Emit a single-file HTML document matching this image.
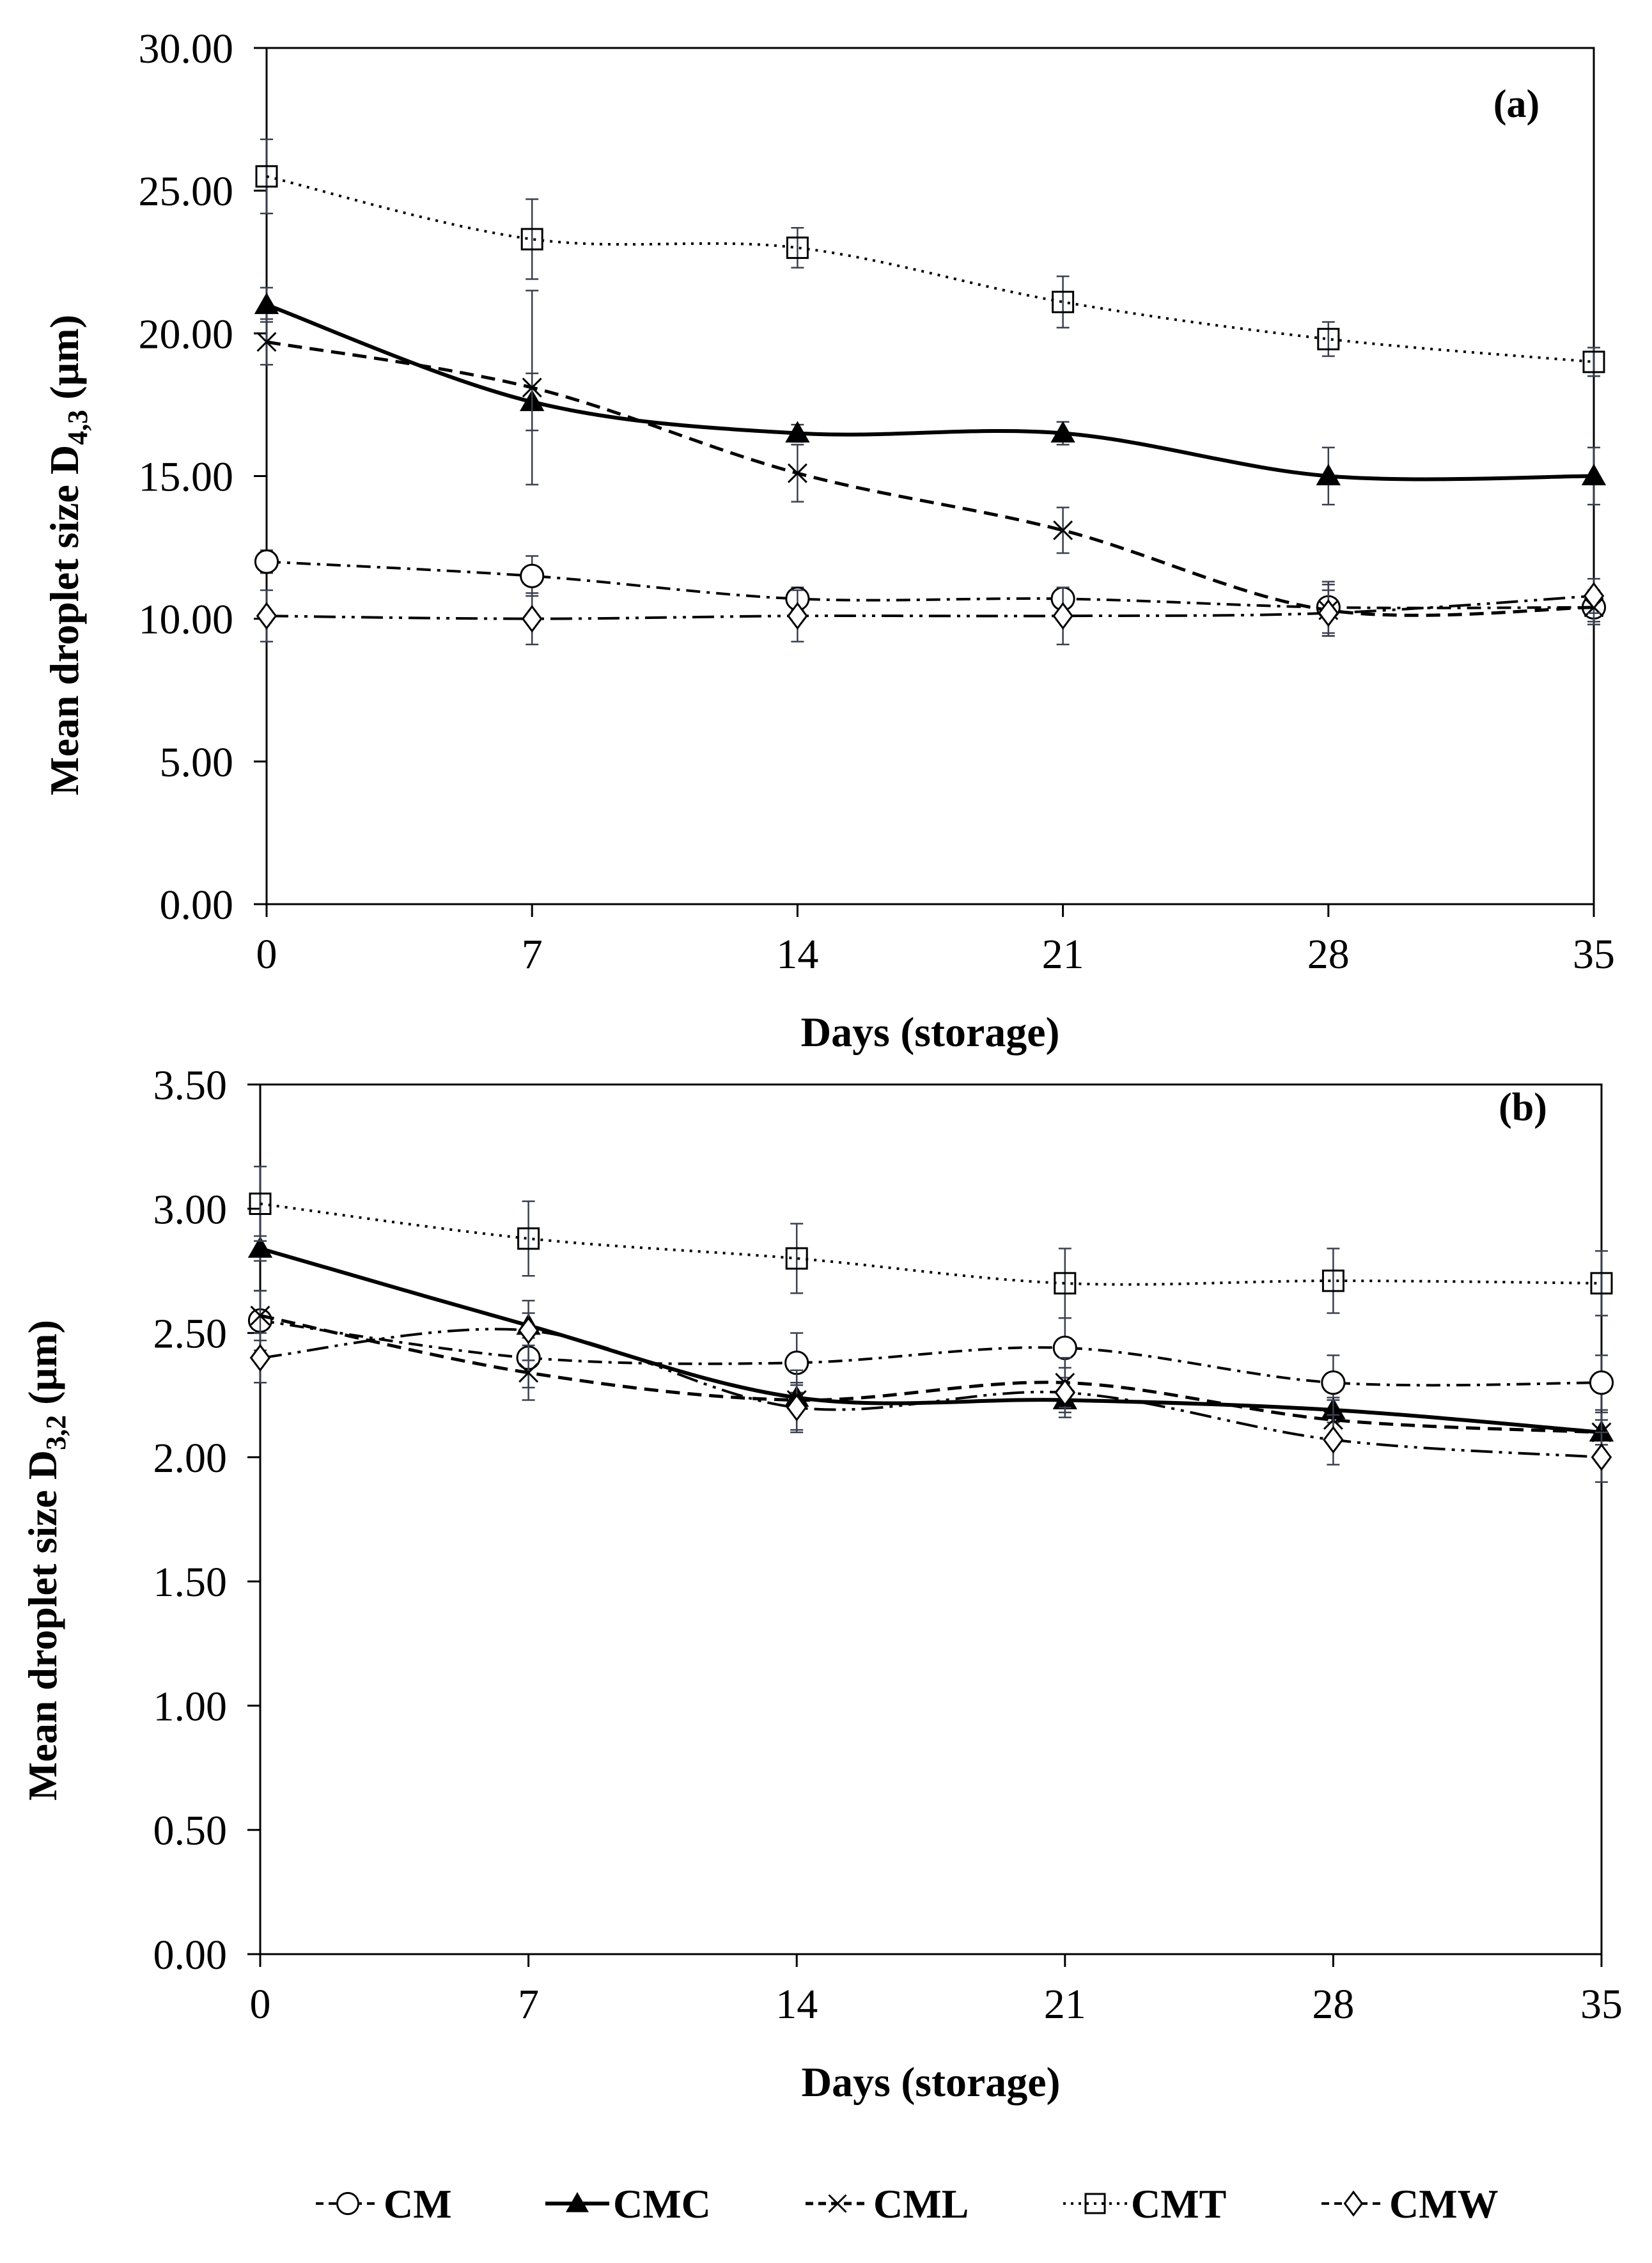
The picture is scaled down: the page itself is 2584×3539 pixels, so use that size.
<!DOCTYPE html>
<html><head><meta charset="utf-8"><style>
html,body{margin:0;padding:0;background:#fff}
svg{display:block}
text{font-family:"Liberation Serif",serif;fill:#000}
</style></head><body>
<svg id="fig" width="2584" height="3539" xmlns="http://www.w3.org/2000/svg" font-family="Liberation Serif, serif"></svg>
<script>
const days=[0,7,14,21,28,35];
const seriesNames=["CM","CMC","CML","CMT","CMW"];
// Panel (a) D4,3
const aCM=[12.0,11.5,10.7,10.7,10.4,10.4];
const aCMC=[21.0,17.6,16.5,16.5,15.0,15.0];
const aCML=[19.7,18.1,15.1,13.1,10.3,10.4];
const aCMT=[25.5,23.3,23.0,21.1,19.8,19.0];
const aCMW=[10.1,10.0,10.1,10.1,10.2,10.8];
const aErrCM=[0.4,0.7,0.4,0.3,0.9,0.5];
const aErrCMC=[0.6,1.0,0.3,0.4,1.0,1.0];
const aErrCML=[0.8,3.4,1.0,0.8,0.9,0.6];
const aErrCMT=[1.3,1.4,0.7,0.9,0.6,0.5];
const aErrCMW=[0.9,0.9,0.9,1.0,0.8,0.6];
const aTicks=["0.00","5.00","10.00","15.00","20.00","25.00","30.00"];
// Panel (b) D3,2
const bCM=[2.55,2.40,2.38,2.44,2.30,2.30];
const bCMC=[2.84,2.53,2.24,2.23,2.19,2.10];
const bCML=[2.57,2.34,2.23,2.30,2.15,2.10];
const bCMT=[3.02,2.88,2.80,2.70,2.71,2.70];
const bCMW=[2.40,2.51,2.20,2.26,2.07,2.00];
const bErrCM=[0.12,0.12,0.12,0.12,0.11,0.11];
const bErrCMC=[0.05,0.05,0.05,0.05,0.05,0.05];
const bErrCML=[0.10,0.11,0.12,0.10,0.08,0.08];
const bErrCMT=[0.15,0.15,0.14,0.14,0.13,0.13];
const bErrCMW=[0.10,0.12,0.10,0.10,0.10,0.10];
const bTicks=["0.00","0.50","1.00","1.50","2.00","2.50","3.00","3.50"];

const NS="http://www.w3.org/2000/svg";
const svg=document.getElementById('fig');
const FF='"Liberation Serif", serif';
function mk(tag,attrs,parent){const e=document.createElementNS(NS,tag);for(const k in attrs)e.setAttribute(k,attrs[k]);if(tag==='text')e.setAttribute('font-family',FF);(parent||svg).appendChild(e);return e;}
const styles={
 CM:{dash:"22 10 5 10",w:4,marker:"circle"},
 CMC:{dash:"",w:6,marker:"tri"},
 CML:{dash:"22 12",w:5,marker:"x"},
 CMT:{dash:"4 9",w:4,marker:"square"},
 CMW:{dash:"34 10 5 10 5 10",w:4,marker:"diamond"}
};
function marker(g,type,x,y,s){
 let e;
 if(type==="circle")e=mk('circle',{cx:x,cy:y,r:s*0.55,fill:'#fff',stroke:'#000','stroke-width':3},g);
 else if(type==="tri")e=mk('polygon',{points:`${x},${y-s*0.6} ${x-s*0.6},${y+s*0.45} ${x+s*0.6},${y+s*0.45}`,fill:'#000'},g);
 else if(type==="square")e=mk('rect',{x:x-s*0.5,y:y-s*0.5,width:s,height:s,fill:'none',stroke:'#000','stroke-width':3},g);
 else if(type==="diamond")e=mk('polygon',{points:`${x},${y-s*0.6} ${x+s*0.45},${y} ${x},${y+s*0.6} ${x-s*0.45},${y}`,fill:'#fff',stroke:'#000','stroke-width':3},g);
 else e=mk('path',{d:`M${x-s*0.45},${y-s*0.45}L${x+s*0.45},${y+s*0.45}M${x-s*0.45},${y+s*0.45}L${x+s*0.45},${y-s*0.45}`,stroke:'#000','stroke-width':3},g);
 
 
}
function smooth(pts){
 let d=`M${pts[0][0]},${pts[0][1]}`;
 for(let i=0;i<pts.length-1;i++){
  const p0=pts[Math.max(i-1,0)],p1=pts[i],p2=pts[i+1],p3=pts[Math.min(i+2,pts.length-1)];
  const t=1/6;
  d+=`C${p1[0]+(p2[0]-p0[0])*t},${p1[1]+(p2[1]-p0[1])*t} ${p2[0]-(p3[0]-p1[0])*t},${p2[1]-(p3[1]-p1[1])*t} ${p2[0]},${p2[1]}`;
 }
 return d;
}
function panel(cfg){
 const g=mk('g',{});
 
 
 const X=v=>cfg.x0+(v-0)/35*(cfg.x1-cfg.x0);
 const Y=v=>cfg.y0-(v/cfg.ymax)*(cfg.y0-cfg.y1);
 const fr=mk('rect',{x:cfg.x0,y:cfg.y1,width:cfg.x1-cfg.x0,height:cfg.y0-cfg.y1,fill:'none',stroke:'#000','stroke-width':3},g);
 
 cfg.ticks.forEach((t,i)=>{
  const v=i*cfg.ystep,y=Y(v);
  mk('line',{x1:cfg.x0-20,x2:cfg.x0,y1:y,y2:y,stroke:'#000','stroke-width':3},g);
  const tx=mk('text',{x:cfg.x0-52,y:y+23,'text-anchor':'end','font-size':66},g);
  tx.textContent=t;
  
 });
 days.forEach(d=>{
  const x=X(d);
  mk('line',{x1:x,x2:x,y1:cfg.y0,y2:cfg.y0+20,stroke:'#000','stroke-width':3},g);
  const tx=mk('text',{x:x,y:cfg.y0+100,'text-anchor':'middle','font-size':66},g);
  tx.textContent=d;
  
 });
 const xt=mk('text',{x:(cfg.x0+cfg.x1)/2,y:cfg.y0+222,'text-anchor':'middle','font-size':66,'font-weight':'bold'},g);
 xt.textContent="Days (storage)";
 
 const yt=mk('text',{x:0,y:0,'text-anchor':'middle','font-size':64,'font-weight':'bold',transform:`translate(${cfg.ytx},${cfg.ytc}) rotate(-90)`},g);
 yt.innerHTML=`Mean droplet size D<tspan font-size="44" dy="14">${cfg.sub}</tspan><tspan dy="-14"> (µm)</tspan>`;
 
 const lb=mk('text',{x:cfg.lx,y:cfg.ly,'text-anchor':'middle','font-size':62,'font-weight':'bold'},g);
 lb.textContent=cfg.label;
 
 seriesNames.forEach((n,si)=>{
  const vals=cfg.vals[si],errs=cfg.errs[si],st=styles[n];
  const sg=mk('g',{},g);
  
  
  days.forEach((d,i)=>{
   const x=X(d),ya=Y(vals[i]+errs[i]),yb=Y(vals[i]-errs[i]);
   mk('path',{d:`M${x},${ya}V${yb}M${x-10},${ya}H${x+10}M${x-10},${yb}H${x+10}`,stroke:'#3a4050','stroke-width':2.5,fill:'none'},sg);
  });
  const pts=days.map((d,i)=>[X(d),Y(vals[i])]);
  const ln=mk('path',{d:smooth(pts),fill:'none',stroke:'#000','stroke-width':st.w,'stroke-dasharray':st.dash},sg);
  
  
  pts.forEach(p=>marker(sg,st.marker,p[0],p[1],32));
 });
}
panel({name:'panel-a',x0:417,x1:2493,y0:1414,y1:75,ymax:30,ystep:5,ticks:aTicks,sub:"4,3",ytx:122,ytc:868,label:"(a)",lx:2372,ly:183,
 vals:[aCM,aCMC,aCML,aCMT,aCMW],errs:[aErrCM,aErrCMC,aErrCML,aErrCMT,aErrCMW]});
panel({name:'panel-b',x0:407,x1:2505,y0:3056,y1:1696,ymax:3.5,ystep:0.5,ticks:bTicks,sub:"3,2",ytx:88,ytc:2440,label:"(b)",lx:2382,ly:1752,
 vals:[bCM,bCMC,bCML,bCMT,bCMW],errs:[bErrCM,bErrCMC,bErrCML,bErrCMT,bErrCMW]});
const lg=mk('g',{});


const legX=[544,903,1310,1713,2117];
seriesNames.forEach((n,i)=>{
 const st=styles[n],cx=legX[i],y=3446;
 const eg=mk('g',{},lg);
 
 
 mk('line',{x1:cx-50,x2:cx+50,y1:y,y2:y,stroke:'#000','stroke-width':st.w,'stroke-dasharray':st.marker==='square'?'4 8':(st.marker==='tri'?'':'12 8')},eg);
 marker(eg,st.marker,cx,y,30);
 const t=mk('text',{x:cx+56,y:y+22,'font-size':64,'font-weight':'bold'},eg);
 t.textContent=n;
});
</script>
</body></html>
